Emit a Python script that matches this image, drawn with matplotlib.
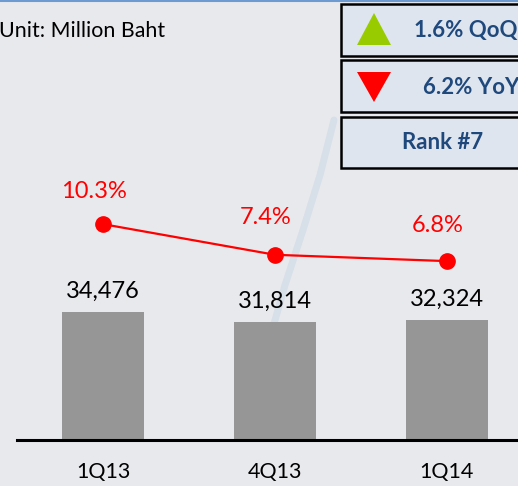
import matplotlib

matplotlib.use("Agg")

import matplotlib.pyplot as plt
from matplotlib.patches import Polygon, Rectangle

plt.rcParams["font.family"] = ["Lato", "DejaVu Sans"]

# data
quarters = ["1Q13", "4Q13", "1Q14"]
revenue = [34476, 31814, 32324]
margin_pct = [10.3, 7.4, 6.8]

unit_text = "Unit: Million Baht"
qoq_text = "1.6% QoQ"
yoy_text = "6.2% YoY"
rank_text = "Rank #7"

W, H = 518, 486
fig = plt.figure(figsize=(W / 100, H / 100), dpi=100)
fig.patch.set_facecolor("#e8e9ed")

# background overlay in pixel coordinates
bg = fig.add_axes([0, 0, 1, 1], zorder=0)
bg.set_xlim(0, W)
bg.set_ylim(H, 0)
bg.axis("off")
bg.plot([334, 320, 303, 285, 268], [120, 175, 230, 285, 345],
        color="#b9cde0", lw=5, alpha=0.35, solid_capstyle="round")
bg.axhline(0.8, color="#6d9bd1", lw=1.5)

# main axes
x = list(range(len(quarters)))
ax = fig.add_axes([17 / W, 46 / H, (W - 17) / W, 440 / H], zorder=1)
ax.patch.set_alpha(0)
ax.bar(x, revenue, width=0.477, color="#969696", zorder=2)
ax.set_xlim(-0.5, 2.413)
ax.set_ylim(0, 118500)
for xi, v in zip(x, revenue):
    ax.text(xi, v + 5500, f"{v:,}", ha="center", va="center",
            fontsize=17, color="black")

for s in ["top", "right", "left"]:
    ax.spines[s].set_visible(False)
ax.spines["bottom"].set_linewidth(2.2)
ax.spines["bottom"].set_color("black")
ax.set_yticks([])
ax.set_xticks(x)
ax.set_xticklabels(quarters, fontsize=15.5)
ax.tick_params(axis="x", length=0, pad=16)

ax2 = ax.twinx()
ax2.set_ylim(-10.12, 31.5)
ax2.plot(x, margin_pct, color="#ff0000", lw=1.6, marker="o",
         markersize=11, zorder=3)
offsets = [3.1, 3.5, 3.4]
for xi, v, off in zip(x, margin_pct, offsets):
    ax2.text(xi - 0.055, v + off, f"{v}%", ha="center", va="center",
             fontsize=17, color="#ff0000")
ax2.set_yticks([])
for s in ax2.spines.values():
    s.set_visible(False)

# header text and the three info boxes
ov = fig.add_axes([0, 0, 1, 1], zorder=4)
ov.set_xlim(0, W)
ov.set_ylim(H, 0)
ov.axis("off")
ov.patch.set_alpha(0)

ov.text(-1, 31, unit_text, fontsize=15.4, va="center", ha="left")

boxes = [(4, 56), (60, 112), (117, 168)]
for top, bottom in boxes:
    ov.add_patch(Rectangle((341, top), 200, bottom - top,
                           facecolor="#dfe5ee", edgecolor="black", lw=1.8))

ov.add_patch(Polygon([[357, 45], [391, 45], [374, 13]], closed=True,
                     facecolor="#99cc00", edgecolor="none"))
ov.add_patch(Polygon([[357, 72], [391, 72], [374, 102]], closed=True,
                     facecolor="#ff0000", edgecolor="none"))

blue = "#1f497d"
ov.text(414, 31, qoq_text, fontsize=16, fontweight="bold", color=blue,
        va="center", ha="left")
ov.text(423, 87, yoy_text, fontsize=16, fontweight="bold", color=blue,
        va="center", ha="left")
ov.text(443, 142, rank_text, fontsize=16, fontweight="bold", color=blue,
        va="center", ha="center")

fig.savefig("out.png", dpi=100)
